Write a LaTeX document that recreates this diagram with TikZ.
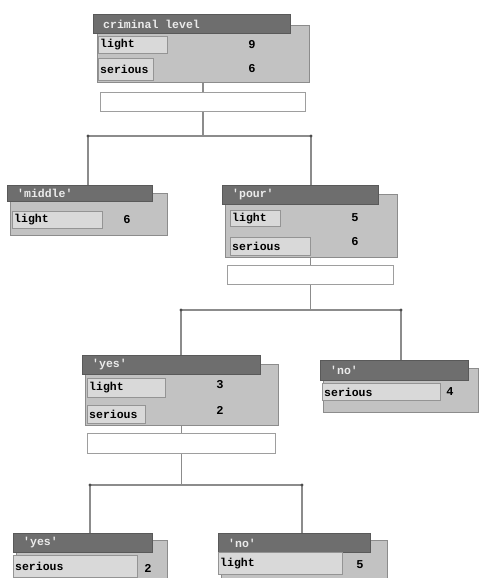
\documentclass[tikz,border=0pt]{standalone}
\usepackage{fontspec}
\setmonofont{Liberation Mono}
\begin{document}
\begin{tikzpicture}[x=1pt,y=-1pt,
  body/.style={draw=black!45,fill=black!24,line width=1pt,inner sep=0pt,anchor=north west},
  header/.style={draw=black!65,fill=black!57,line width=0.8pt,inner sep=0pt,anchor=north west},
  cell/.style={draw=black!42,fill=black!15,line width=0.8pt,inner sep=0pt,anchor=north west},
  num/.style={inner sep=0pt,font=\ttfamily\bfseries\fontsize{12}{14}\selectfont},
  empty/.style={draw=black!38,fill=white,line width=1.3pt,inner sep=0pt,anchor=north west},
  link/.style={draw=black!45,line width=1.6pt},
  dot/.style={circle,fill=black!70,inner sep=0pt,minimum size=3.2pt}
]
\useasboundingbox (0,0) rectangle (479,578);
\clip (0,0) rectangle (479,578);
% helpers
\newcommand{\hdr}[6]{\node[header,minimum width=#4,minimum height=#5] (#1) at (#2,#3) {};
  \node[anchor=west,inner sep=0pt,text=white!92!black,font=\ttfamily\bfseries\fontsize{11.5}{13}\selectfont] (#1t) at ([xshift=10pt]#1.west) {#6};}
\newcommand{\cel}[6]{\node[cell,minimum width=#4,minimum height=#5] (#1) at (#2,#3) {};
  \node[anchor=west,inner sep=0pt,font=\ttfamily\bfseries\fontsize{11.5}{13}\selectfont] (#1t) at ([xshift=2pt]#1.west) {#6};}

% ---------- root ----------
\node[body,minimum width=212,minimum height=57] (b1) at (97,25) {};
\hdr{h1}{93}{14}{197}{19}{criminal level}
\cel{c1a}{98}{36}{69}{17}{light}
\cel{c1b}{98}{58}{55}{22}{serious}
\node[num] (n1a) at (252,45) {9};
\node[num] (n1b) at (252,69) {6};
\node[empty,minimum width=205,minimum height=19] (e1) at (100,92) {};

% ---------- 'middle' ----------
\node[body,minimum width=157,minimum height=42] (b2) at (10,193) {};
\hdr{h2}{7}{185}{145}{16}{'middle'}
\cel{c2a}{12}{211}{90}{17}{light}
\node[num] (n2a) at (127,220) {6};

% ---------- 'pour' ----------
\node[body,minimum width=172,minimum height=63] (b3) at (225,194) {};
\hdr{h3}{222}{185}{156}{19}{'pour'}
\cel{c3a}{230}{210}{50}{16}{light}
\cel{c3b}{230}{237}{80}{18}{serious}
\node[num] (n3a) at (355,218) {5};
\node[num] (n3b) at (355,242) {6};
\node[empty,minimum width=166,minimum height=19] (e3) at (227,265) {};

% ---------- 'yes' ----------
\node[body,minimum width=193,minimum height=61] (b4) at (85,364) {};
\hdr{h4}{82}{355}{178}{19}{'yes'}
\cel{c4a}{87}{378}{78}{19}{light}
\cel{c4b}{87}{405}{58}{18}{serious}
\node[num] (n4a) at (220,385) {3};
\node[num] (n4b) at (220,410) {2};
\node[empty,minimum width=188,minimum height=20] (e4) at (87,433) {};

% ---------- 'no' ----------
\node[body,minimum width=155,minimum height=44] (b5) at (323,368) {};
\hdr{h5}{320}{360}{148}{20}{'no'}
\cel{c5a}{322}{383}{118}{17}{serious}
\node[num] (n5a) at (450,392) {4};

% ---------- bottom 'yes' ----------
\node[body,minimum width=151,minimum height=50] (b6) at (16,540) {};
\hdr{h6}{13}{533}{139}{19}{'yes'}
\cel{c6a}{13}{555}{124}{22}{serious}
\node[num] (n6a) at (148,568) {2};

% ---------- bottom 'no' ----------
\node[body,minimum width=166,minimum height=50] (b7) at (221,540) {};
\hdr{h7}{218}{533}{152}{19}{'no'}
\cel{c7a}{218}{552}{124}{22}{light}
\node[num] (n7a) at (360,565) {5};

% ---------- connectors ----------
\coordinate (j1l) at (88,136);
\coordinate (j1r) at (311,136);
\draw[link] (b1.south -| e1.north) -- (e1.north);
\draw[link] (e1.south) -- (e1.south |- j1l);
\draw[link] (j1l) -- (j1r);
\draw[link] (j1l) -- (j1l |- h2.north);
\draw[link] (j1r) -- (j1r |- h3.north);
\node[dot] (d1l) at (j1l) {};
\node[dot] (d1r) at (j1r) {};

\coordinate (j3l) at (181,310);
\coordinate (j3r) at (401,310);
\draw[link] (b3.south -| e3.north) -- (e3.north);
\draw[link] (e3.south) -- (e3.south |- j3l);
\draw[link] (j3l) -- (j3r);
\draw[link] (j3l) -- (j3l |- h4.north);
\draw[link] (j3r) -- (j3r |- h5.north);
\node[dot] (d3l) at (j3l) {};
\node[dot] (d3r) at (j3r) {};

\coordinate (j4l) at (90,485);
\coordinate (j4r) at (302,485);
\draw[link] (b4.south -| e4.north) -- (e4.north);
\draw[link] (e4.south) -- (e4.south |- j4l);
\draw[link] (j4l) -- (j4r);
\draw[link] (j4l) -- (j4l |- h6.north);
\draw[link] (j4r) -- (j4r |- h7.north);
\node[dot] (d4l) at (j4l) {};
\node[dot] (d4r) at (j4r) {};
\end{tikzpicture}
\end{document}
